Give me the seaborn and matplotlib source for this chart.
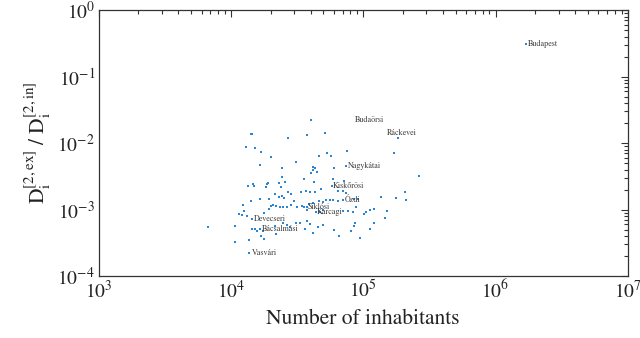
import matplotlib
matplotlib.use("Agg")
import matplotlib.pyplot as plt
import matplotlib.ticker as mticker
import numpy as np
import pandas as pd
import seaborn as sns

# Districts without a name tag: population and D_ex / D_in ratio
population = [
    40000, 14160, 14500, 26800, 37900, 51000, 13000, 15300, 16900, 19950,
    53100, 56900, 46500, 74800, 31200, 16700, 24300, 41600, 43300, 42100,
    44400, 60000, 40600, 35400, 24500, 42600, 59300, 71800, 266000, 13400,
    14800, 15000, 18600, 19100, 18300, 23200, 25700, 24100, 21500, 23200,
    25100, 24300, 26800, 28700, 34000, 36900, 39500, 43100, 47900, 64700,
    69800, 73500, 85500, 92100, 136800, 178400, 206000, 209800, 14300, 16700,
    19400, 12400, 12600, 11600, 12100, 13300, 17700, 19500, 19950, 20700,
    21900, 23700, 24800, 26700, 28400, 30100, 31700, 34200, 36000, 39100,
    41900, 46200, 49900, 52200, 56000, 59300, 64000, 37900, 47000, 49900,
    70600, 76900, 83900, 88900, 101600, 105900, 113500, 121000, 150000, 144900,
    6700, 10700, 14400, 15300, 15800, 16900, 17600, 21500, 22100, 24800,
    26700, 27900, 31000, 33200, 37300, 39500, 36300, 41900, 45700, 50100,
    60300, 65800, 86500, 84900, 81500, 94200, 112200, 121000, 10700, 13600,
    17700,
]
ratio = [
    0.0222, 0.0135, 0.0135, 0.0118, 0.0132, 0.0143, 0.0086, 0.0085, 0.0073, 0.0061,
    0.0072, 0.0065, 0.0064, 0.0077, 0.0052, 0.0047, 0.0043, 0.0044, 0.0042, 0.0039,
    0.0037, 0.0043, 0.0035, 0.0029, 0.0031, 0.0026, 0.0029, 0.0027, 0.0032, 0.0023,
    0.0024, 0.0023, 0.0024, 0.0025, 0.0022, 0.0025, 0.0026, 0.0022, 0.0017, 0.00156,
    0.00152, 0.00161, 0.00184, 0.00171, 0.00186, 0.00192, 0.00184, 0.00184, 0.00206, 0.00192,
    0.0019, 0.00175, 0.00144, 0.00144, 0.00154, 0.00152, 0.00184, 0.00142, 0.00133, 0.00144,
    0.00144, 0.00117, 0.00097, 0.00086, 0.00082, 0.0008, 0.0009, 0.00101, 0.00113, 0.00117,
    0.00113, 0.00108, 0.00108, 0.00109, 0.00118, 0.00136, 0.0011, 0.00114, 0.0011, 0.00121,
    0.00127, 0.00136, 0.00131, 0.00139, 0.00142, 0.00139, 0.00136, 0.00098, 0.00093, 0.00098,
    0.00095, 0.00096, 0.00093, 0.0011, 0.00085, 0.00092, 0.00098, 0.00101, 0.00095, 0.00076,
    0.00055, 0.00056, 0.00052, 0.00051, 0.00048, 0.0004, 0.00048, 0.00056, 0.00043, 0.00063,
    0.00058, 0.00055, 0.00062, 0.00063, 0.00068, 0.0006, 0.00052, 0.00045, 0.00054, 0.00059,
    0.00049, 0.0004, 0.00064, 0.00057, 0.00048, 0.00038, 0.00052, 0.00064, 0.00033, 0.00035,
    0.00036,
]

# Named districts
named_districts = ["Budapest", "Budaörsi", "Ráckevei", "Nagykátai", "Kiskőrösi",
                   "Ózdi", "Siklósi", "Karcagi", "Devecseri", "Bácsalmási", "Vasvári"]
named_population = [1690000, 171000, 183700, 73500, 58000,
                    70800, 37500, 43900, 14500, 16600, 13700]
named_ratio = [0.305, 0.0070, 0.01175, 0.00451, 0.00226,
               0.00139, 0.0011, 0.00091, 0.00073, 0.00051, 0.000224]

# Text placement for each name tag (offset in points, horizontal alignment)
tag_offsets = {
    "Budapest": ((1.5, 0), "left"),
    "Budaörsi": ((-17.5, 24), "center"),
    "Ráckevei": ((2.5, 3.6), "center"),
    "Nagykátai": ((2, 0), "left"),
    "Kiskőrösi": ((0.7, 0), "left"),
    "Ózdi": ((0.7, 0), "left"),
    "Siklósi": ((0.7, 0), "left"),
    "Karcagi": ((0.7, 0), "left"),
    "Devecseri": ((1.3, 0), "left"),
    "Bácsalmási": ((1.3, 0), "left"),
    "Vasvári": ((2, 0), "left"),
}

df = pd.DataFrame({
    "population": population + named_population,
    "ratio": ratio + named_ratio,
})

sns.set_style("white")
plt.rcParams["font.family"] = ["STIXGeneral", "DejaVu Serif"]
plt.rcParams["mathtext.fontset"] = "stix"

fig = plt.figure(figsize=(6.4, 3.38), dpi=100)
ax = fig.add_axes([0.154, 0.183, 0.827, 0.787])

sns.scatterplot(data=df, x="population", y="ratio", ax=ax,
                color="#2a86d4", s=2.2, marker="s", linewidth=0, legend=False)

for name, px, py in zip(named_districts, named_population, named_ratio):
    (dx, dy), ha = tag_offsets[name]
    ax.annotate(name, xy=(px, py), xytext=(dx, dy), textcoords="offset points",
                ha=ha, va="center", fontsize=5.8, color="#3a3a3a")

ax.set_xscale("log")
ax.set_yscale("log")
ax.set_xlim(1e3, 1e7)
ax.set_ylim(1e-4, 1e0)

ax.xaxis.set_major_locator(mticker.LogLocator(base=10, numticks=10))
ax.yaxis.set_major_locator(mticker.LogLocator(base=10, numticks=10))
ax.xaxis.set_minor_locator(mticker.LogLocator(base=10, subs=np.arange(2, 10), numticks=20))
ax.yaxis.set_minor_locator(mticker.LogLocator(base=10, subs=np.arange(2, 10), numticks=20))
ax.xaxis.set_minor_formatter(mticker.NullFormatter())
ax.yaxis.set_minor_formatter(mticker.NullFormatter())
fmt = mticker.FuncFormatter(lambda v, _: r"$10^{%d}$" % int(round(np.log10(v))))
ax.xaxis.set_major_formatter(fmt)
ax.yaxis.set_major_formatter(fmt)

ax.tick_params(which="both", direction="in", top=True, right=True,
               color="#333333", width=0.8)
ax.tick_params(which="major", length=5, labelsize=14, pad=2.5, labelcolor="#222222")
ax.tick_params(which="minor", length=3)
for sp in ax.spines.values():
    sp.set_color("#333333")
    sp.set_linewidth(0.9)

ax.set_xlabel("Number of inhabitants", fontsize=15.5, color="#222222", labelpad=5)
ax.set_ylabel(r"$\mathrm{D_i^{[2,ex]}}\ /\ \mathrm{D_i^{[2,in]}}$", fontsize=15.5,
              color="#222222", labelpad=3)

fig.savefig("out.png", dpi=100)
